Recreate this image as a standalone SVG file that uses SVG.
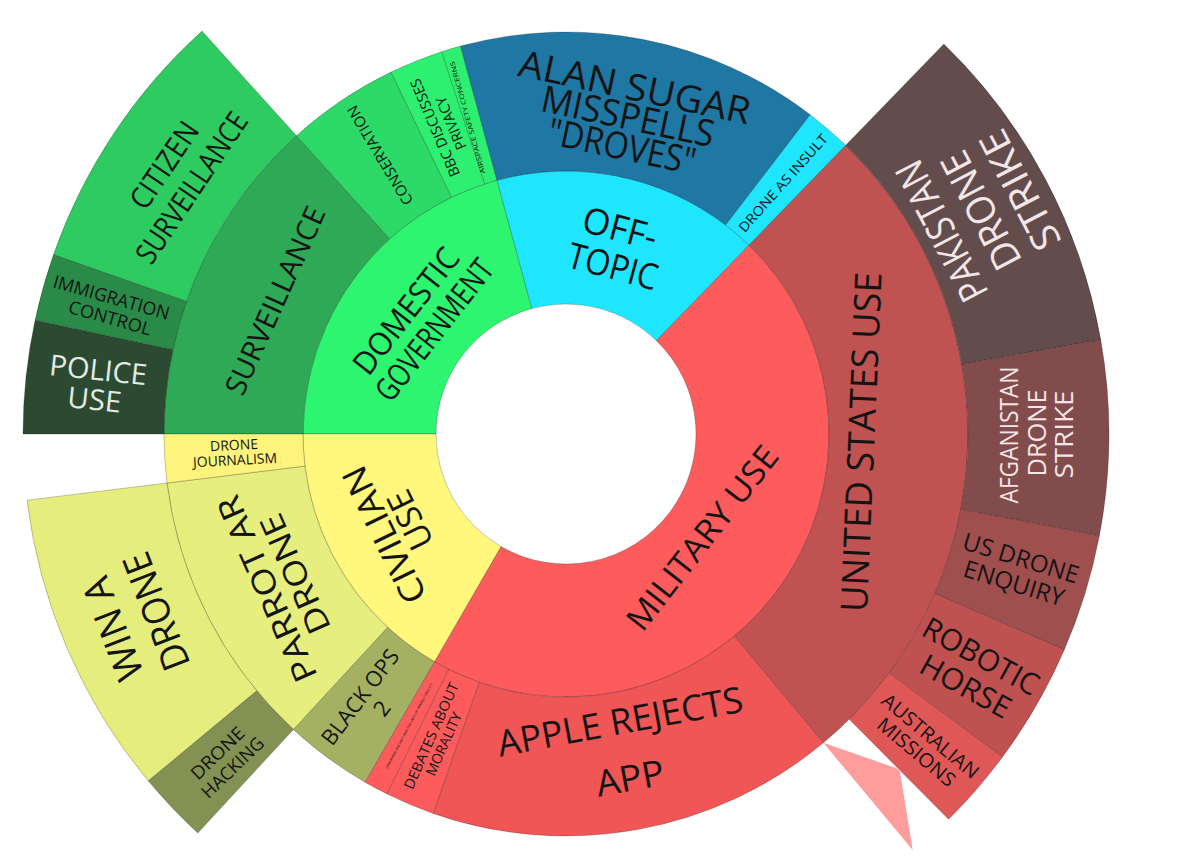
<svg xmlns="http://www.w3.org/2000/svg" width="1183" height="867" viewBox="0 0 1183 867">
<style>
.seg{stroke:#000;stroke-opacity:.28;stroke-width:.8}
.t{font-family:"Open Sans","Liberation Sans",sans-serif;fill:#141414;text-anchor:middle}
.lt{fill:#f3e6e6}
</style>
<rect width="1183" height="867" fill="#fff"/>
<g id="connectors"></g>

<g id="domestic-government">
<path class="seg" fill="#2df570" d="M303,434 A263,263 0 0 1 497.04,180.2 L531.92,308.55 A130,130 0 0 0 436,434 Z"/>
<text class="t" font-size="32" transform="translate(405.8,310.8) rotate(-52)" y="11.5" textLength="151" lengthAdjust="spacingAndGlyphs">DOMESTIC</text>
<text class="t" font-size="32" transform="translate(434,329.7) rotate(-52)" y="11.5" textLength="170" lengthAdjust="spacingAndGlyphs">GOVERNMENT</text>
</g>
<g id="off-topic">
<path class="seg" fill="#1ee6ff" d="M497.04,180.2 A263,263 0 0 1 749.03,245.13 L656.47,340.64 A130,130 0 0 0 531.92,308.55 Z"/>
<text class="t" font-size="36" transform="translate(620,228) rotate(15)" y="13" textLength="76" lengthAdjust="spacingAndGlyphs">OFF-</text>
<text class="t" font-size="36" transform="translate(613,266) rotate(15)" y="13" textLength="92" lengthAdjust="spacingAndGlyphs">TOPIC</text>
</g>
<g id="military-use">
<path class="seg" fill="#fe5c5c" d="M749.03,245.13 A263,263 0 0 1 434.5,661.77 L501,546.58 A130,130 0 0 0 656.47,340.64 Z"/>
<text class="t" font-size="33" transform="translate(702,537.8) rotate(-52)" y="11.9" textLength="224" lengthAdjust="spacingAndGlyphs">MILITARY USE</text>
</g>
<g id="civilian-use">
<path class="seg" fill="#fff87c" d="M434.5,661.77 A263,263 0 0 1 303,434 L436,434 A130,130 0 0 0 501,546.58 Z"/>
<text class="t" font-size="34" transform="translate(384,535) rotate(-116)" y="12.2" textLength="148" lengthAdjust="spacingAndGlyphs">CIVILIAN</text>
<text class="t" font-size="34" transform="translate(410,520) rotate(-116)" y="12.2" textLength="62" lengthAdjust="spacingAndGlyphs">USE</text>
</g>

<g id="surveillance">
<path class="seg" fill="#2eaa56" d="M164,434 A402,402 0 0 1 296.49,135.72 L389.68,238.86 A263,263 0 0 0 303,434 Z"/>
<text class="t" font-size="29" transform="translate(275,300.5) rotate(-65.7)" y="10.4" textLength="203" lengthAdjust="spacingAndGlyphs">SURVEILLANCE</text>
</g>
<g id="conservation">
<path class="seg" fill="#2dda68" d="M296.49,135.72 A402,402 0 0 1 391.04,72.07 L451.53,197.22 A263,263 0 0 0 389.68,238.86 Z"/>
<text class="t" font-size="15" transform="translate(380,155.3) rotate(-121)" y="5.4" textLength="113" lengthAdjust="spacingAndGlyphs">CONSERVATION</text>
</g>
<g id="bbc-discusses-privacy">
<path class="seg" fill="#2ef070" d="M391.04,72.07 A402,402 0 0 1 441.77,51.67 L484.73,183.87 A263,263 0 0 0 451.53,197.22 Z"/>
<text class="t" font-size="14.5" transform="translate(435,127.8) rotate(-113)" y="5.2" textLength="105" lengthAdjust="spacingAndGlyphs">BBC DISCUSSES</text>
<text class="t" font-size="14.5" transform="translate(451,123.3) rotate(-113)" y="5.2" textLength="56" lengthAdjust="spacingAndGlyphs">PRIVACY</text>
</g>
<g id="airspace-safety-concerns">
<path class="seg" fill="#2ef070" d="M441.77,51.67 A402,402 0 0 1 460.6,46.06 L497.04,180.2 A263,263 0 0 0 484.73,183.87 Z"/>
<text class="t" font-size="6.5" transform="translate(467.5,117.5) rotate(-105.5)" y="2.3" textLength="116" lengthAdjust="spacingAndGlyphs">AIRSPACE SAFETY CONCERNS</text>
</g>
<g id="alan-sugar">
<path class="seg" fill="#1f77a4" d="M460.6,46.06 A402,402 0 0 1 810.18,114.63 L725.75,225.06 A263,263 0 0 0 497.04,180.2 Z"/>
<text class="t" font-size="37" transform="translate(635,87) rotate(12)" y="13.3" textLength="236" lengthAdjust="spacingAndGlyphs">ALAN SUGAR</text>
<text class="t" font-size="37" transform="translate(628,116) rotate(12)" y="13.3" textLength="176" lengthAdjust="spacingAndGlyphs">MISSPELLS</text>
<text class="t" font-size="37" transform="translate(622,146) rotate(12)" y="13.3" textLength="150" lengthAdjust="spacingAndGlyphs">"DROVES"</text>
</g>
<g id="drone-as-insult">
<path class="seg" fill="#1ee6ff" d="M810.18,114.63 A402,402 0 0 1 845.76,145.31 L749.03,245.13 A263,263 0 0 0 725.75,225.06 Z"/>
<text class="t" font-size="13.5" transform="translate(783,183) rotate(-48.2)" y="4.9" textLength="126" lengthAdjust="spacingAndGlyphs">DRONE AS INSULT</text>
</g>
<g id="united-states-use">
<path class="seg" fill="#c05252" d="M845.76,145.31 A402,402 0 0 1 823.33,742.85 L734.35,636.06 A263,263 0 0 0 749.03,245.13 Z"/>
<text class="t" font-size="37" transform="translate(861,442) rotate(-87.5)" y="13.3" textLength="340" lengthAdjust="spacingAndGlyphs">UNITED STATES USE</text>
</g>
<g id="apple-rejects-app">
<path class="seg" fill="#f05656" d="M823.33,742.85 A402,402 0 0 1 433.13,813.41 L479.08,682.22 A263,263 0 0 0 734.35,636.06 Z"/>
<text class="t" font-size="36" transform="translate(620,721.2) rotate(-10.5)" y="13" textLength="249" lengthAdjust="spacingAndGlyphs">APPLE REJECTS</text>
<text class="t" font-size="36" transform="translate(630,777.8) rotate(-10.5)" y="13" textLength="69" lengthAdjust="spacingAndGlyphs">APP</text>
</g>
<g id="debates-about-morality">
<path class="seg" fill="#fe5c5c" d="M433.13,813.41 A402,402 0 0 1 386.63,793.76 L448.65,669.37 A263,263 0 0 0 479.08,682.22 Z"/>
<text class="t" font-size="14" transform="translate(431.2,735.8) rotate(-66)" y="5" textLength="115" lengthAdjust="spacingAndGlyphs">DEBATES ABOUT</text>
<text class="t" font-size="14" transform="translate(443.7,744) rotate(-66)" y="5" textLength="68" lengthAdjust="spacingAndGlyphs">MORALITY</text>
</g>
<g id="small-military-topic">
<path class="seg" fill="#fe5c5c" d="M386.63,793.76 A402,402 0 0 1 365,782.14 L434.5,661.77 A263,263 0 0 0 448.65,669.37 Z"/>
<text class="t" font-size="3.2" transform="translate(409,726) rotate(-62)" y="1.1" textLength="96" lengthAdjust="spacingAndGlyphs">UNMANNED AIRCRAFT AND THE LAWS OF ARMED CONFLICT</text>
</g>
<g id="black-ops-2">
<path class="seg" fill="#a4b062" d="M365,782.14 A402,402 0 0 1 293.38,729.44 L387.64,627.28 A263,263 0 0 0 434.5,661.77 Z"/>
<text class="t" font-size="22" transform="translate(360,697) rotate(-53)" y="7.9" textLength="113" lengthAdjust="spacingAndGlyphs">BLACK OPS</text>
<text class="t" font-size="22" transform="translate(381.7,708.3) rotate(-53)" y="7.9">2</text>
</g>
<g id="parrot-ar-drone">
<path class="seg" fill="#e6ee7d" d="M293.38,729.44 A402,402 0 0 1 166.99,482.99 L304.96,466.05 A263,263 0 0 0 387.64,627.28 Z"/>
<text class="t" font-size="32" transform="translate(266.7,589) rotate(-114)" y="11.5" textLength="200" lengthAdjust="spacingAndGlyphs">PARROT AR</text>
<text class="t" font-size="32" transform="translate(295,574) rotate(-114)" y="11.5" textLength="128" lengthAdjust="spacingAndGlyphs">DRONE</text>
</g>
<g id="drone-journalism">
<path class="seg" fill="#fff47b" d="M166.99,482.99 A402,402 0 0 1 164,434 L303,434 A263,263 0 0 0 304.96,466.05 Z"/>
<text class="t" font-size="14" transform="translate(234,445) rotate(-3)" y="5" textLength="48" lengthAdjust="spacingAndGlyphs">DRONE</text>
<text class="t" font-size="14" transform="translate(235,460) rotate(-3)" y="5" textLength="84" lengthAdjust="spacingAndGlyphs">JOURNALISM</text>
</g>

<g id="police-use">
<path class="seg" fill="#2c4a32" d="M23,434 A543,543 0 0 1 35.07,320.18 L172.93,349.73 A402,402 0 0 0 164,434 Z"/>
<text class="t" style="fill:#e3ebe3" font-size="29" transform="translate(98.3,369.8) rotate(6)" y="10.4" textLength="98" lengthAdjust="spacingAndGlyphs">POLICE</text>
<text class="t" style="fill:#e3ebe3" font-size="29" transform="translate(94.5,399.5) rotate(6)" y="10.4" textLength="54" lengthAdjust="spacingAndGlyphs">USE</text>
</g>
<g id="immigration-control">
<path class="seg" fill="#2a8a48" d="M35.07,320.18 A543,543 0 0 1 53.52,254.53 L186.59,301.13 A402,402 0 0 0 172.93,349.73 Z"/>
<text class="t" font-size="18" transform="translate(111.5,297.3) rotate(15.8)" y="6.5" textLength="120" lengthAdjust="spacingAndGlyphs">IMMIGRATION</text>
<text class="t" font-size="18" transform="translate(110,317.8) rotate(15.8)" y="6.5" textLength="85" lengthAdjust="spacingAndGlyphs">CONTROL</text>
</g>
<g id="citizen-surveillance">
<path class="seg" fill="#2ecc60" d="M53.52,254.53 A543,543 0 0 1 201.96,31.1 L296.49,135.72 A402,402 0 0 0 186.59,301.13 Z"/>
<text class="t" font-size="30" transform="translate(164,165) rotate(-56)" y="10.8" textLength="98" lengthAdjust="spacingAndGlyphs">CITIZEN</text>
<text class="t" font-size="30" transform="translate(191.5,187.5) rotate(-56)" y="10.8" textLength="175" lengthAdjust="spacingAndGlyphs">SURVEILLANCE</text>
</g>
<g id="pakistan-drone-strike">
<path class="seg" fill="#634c4c" d="M943.88,44.06 A543,543 0 0 1 1100.75,339.71 L961.89,364.19 A402,402 0 0 0 845.76,145.31 Z"/>
<text class="t lt" font-size="39" transform="translate(941.4,231.2) rotate(-117.6)" y="14" textLength="153" lengthAdjust="spacingAndGlyphs">PAKISTAN</text>
<text class="t lt" font-size="39" transform="translate(980.8,210.6) rotate(-117.6)" y="14" textLength="128" lengthAdjust="spacingAndGlyphs">DRONE</text>
<text class="t lt" font-size="39" transform="translate(1019.8,190.2) rotate(-117.6)" y="14" textLength="130" lengthAdjust="spacingAndGlyphs">STRIKE</text>
</g>
<g id="afganistan-drone-strike">
<path class="seg" fill="#834c4c" d="M1100.75,339.71 A543,543 0 0 1 1099.38,535.75 L960.88,509.33 A402,402 0 0 0 961.89,364.19 Z"/>
<text class="t lt" font-size="26" transform="translate(1008.5,435) rotate(-90)" y="9.4" textLength="137" lengthAdjust="spacingAndGlyphs">AFGANISTAN</text>
<text class="t lt" font-size="26" transform="translate(1037,433) rotate(-90)" y="9.4" textLength="87" lengthAdjust="spacingAndGlyphs">DRONE</text>
<text class="t lt" font-size="26" transform="translate(1064,434.5) rotate(-90)" y="9.4" textLength="88" lengthAdjust="spacingAndGlyphs">STRIKE</text>
</g>
<g id="us-drone-enquiry">
<path class="seg" fill="#a04f4f" d="M1099.38,535.75 A543,543 0 0 1 1064.35,649.66 L934.94,593.66 A402,402 0 0 0 960.88,509.33 Z"/>
<text class="t" font-size="24" transform="translate(1021,558) rotate(17)" y="8.6" textLength="120" lengthAdjust="spacingAndGlyphs">US DRONE</text>
<text class="t" font-size="24" transform="translate(1014,583) rotate(17)" y="8.6" textLength="104" lengthAdjust="spacingAndGlyphs">ENQUIRY</text>
</g>
<g id="robotic-horse">
<path class="seg" fill="#c05151" d="M1064.35,649.66 A543,543 0 0 1 1002.5,756.99 L889.15,673.12 A402,402 0 0 0 934.94,593.66 Z"/>
<text class="t" font-size="30" transform="translate(981,656) rotate(29)" y="10.8" textLength="128" lengthAdjust="spacingAndGlyphs">ROBOTIC</text>
<text class="t" font-size="30" transform="translate(965.7,686) rotate(29)" y="10.8" textLength="99" lengthAdjust="spacingAndGlyphs">HORSE</text>
</g>
<g id="australian-missions">
<path class="seg" fill="#e05757" d="M1002.5,756.99 A543,543 0 0 1 948.62,819.3 L849.27,719.25 A402,402 0 0 0 889.15,673.12 Z"/>
<text class="t" font-size="19.5" transform="translate(930.5,736) rotate(40)" y="7" textLength="120" lengthAdjust="spacingAndGlyphs">AUSTRALIAN</text>
<text class="t" font-size="19.5" transform="translate(916.5,752) rotate(40)" y="7" textLength="95" lengthAdjust="spacingAndGlyphs">MISSIONS</text>
</g>
<g id="drone-hacking">
<path class="seg" fill="#839153" d="M197.75,833.06 A543,543 0 0 1 148.21,780.86 L256.7,690.79 A402,402 0 0 0 293.38,729.44 Z"/>
<text class="t" font-size="18" transform="translate(217.5,753) rotate(-44)" y="6.5" textLength="67" lengthAdjust="spacingAndGlyphs">DRONE</text>
<text class="t" font-size="18" transform="translate(232.5,767.5) rotate(-44)" y="6.5" textLength="79" lengthAdjust="spacingAndGlyphs">HACKING</text>
</g>
<g id="win-a-drone">
<path class="seg" fill="#e5ed7c" d="M148.21,780.86 A543,543 0 0 1 27.05,500.18 L166.99,482.99 A402,402 0 0 0 256.7,690.79 Z"/>
<text class="t" font-size="38" transform="translate(112.5,629) rotate(-111)" y="13.7" textLength="107" lengthAdjust="spacingAndGlyphs">WIN A</text>
<text class="t" font-size="38" transform="translate(156,611.5) rotate(-111)" y="13.7" textLength="123" lengthAdjust="spacingAndGlyphs">DRONE</text>
</g>
<g id="pointer">
<polygon fill="#ff9c9c" points="823.3,742.7 896.7,768.3 900,771.7 912.7,850"/>
</g>
</svg>
